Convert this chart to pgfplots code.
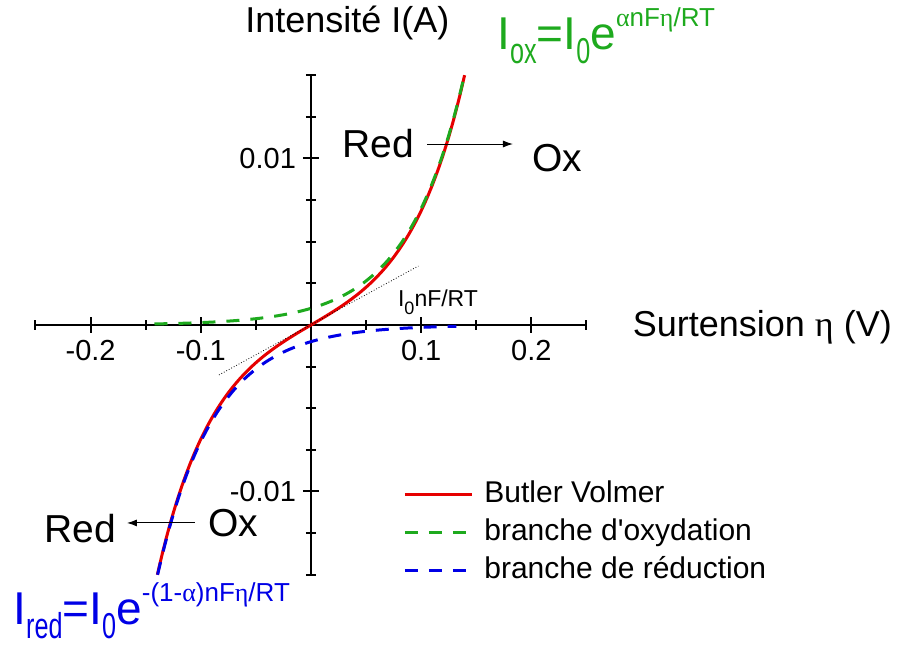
\documentclass[border=0pt]{standalone}
\usepackage{pgfplots}
\pgfplotsset{compat=1.18}
\usepackage{graphicx}
\usepackage{fontspec}
\setmainfont{Liberation Sans}
\newfontfamily\grk{Liberation Serif}
\usetikzlibrary{arrows.meta}
\definecolor{bvred}{RGB}{230,0,0}
\definecolor{bvgreen}{RGB}{30,170,30}
\definecolor{bvblue}{RGB}{0,0,230}
\begin{document}
\begin{tikzpicture}
\begin{axis}[
  scale only axis, width=275.5pt, height=249.75pt,
  xmin=-0.25, xmax=0.25, ymin=-0.015, ymax=0.015,
  axis lines=middle, axis line style={-, line width=1pt, black},
  clip=false,
  xtick={-0.2,-0.1,0.1,0.2},
  minor xtick={-0.25,-0.15,-0.05,0.05,0.15,0.25},
  ytick={-0.01,0.01},
  minor ytick={-0.015,-0.0125,-0.0075,-0.005,-0.0025,0.0025,0.005,0.0075,0.0125,0.015},
  tick align=center,
  major tick length=8pt, minor tick length=5pt,
  every tick/.style={line width=1pt, black},
  scaled y ticks=false, scaled x ticks=false,
  /pgf/number format/assume math mode=true,
  xticklabel={\pgfmathprintnumber[fixed,precision=1]{\tick}},
  yticklabel={\pgfmathprintnumber[fixed,precision=2]{\tick}},
  tick label style={font=\fontsize{14.5}{16}\selectfont},
  legend style={draw=none, fill=none, at={(axis cs:0.0835,-0.0093)}, anchor=north west,
    font=\fontsize{15}{18}\selectfont, row sep=5pt, column sep=5.5pt, inner sep=0pt,
    nodes={inner sep=0pt, text height=11pt, text depth=3pt}},
  legend cell align=left,
  legend image code/.code={\draw[#1] (0pt,0pt) -- (33.5pt,0pt);},
]
% Butler-Volmer
\addplot[bvred, line width=1.5pt, smooth] coordinates {
(-0.1394,-0.0150022) (-0.135,-0.0137595) (-0.13,-0.0124697) (-0.125,-0.0112983)
(-0.12,-0.0102336) (-0.115,-0.0092663) (-0.11,-0.0083864) (-0.105,-0.0075861)
(-0.1,-0.0068574) (-0.095,-0.0061942) (-0.09,-0.0055892) (-0.085,-0.0050372)
(-0.08,-0.0045329) (-0.075,-0.0040711) (-0.07,-0.0036484) (-0.065,-0.0032603)
(-0.06,-0.0029030) (-0.055,-0.0025733) (-0.05,-0.0022678) (-0.045,-0.0019840)
(-0.04,-0.0017189) (-0.035,-0.0014699) (-0.03,-0.0012350) (-0.025,-0.0010118)
(-0.02,-0.0007982) (-0.015,-0.0005920) (-0.01,-0.0003916) (-0.005,-0.0001949)
(0,0)
(0.005,0.0001949) (0.01,0.0003916) (0.015,0.0005920) (0.02,0.0007982)
(0.025,0.0010118) (0.03,0.0012350) (0.035,0.0014699) (0.04,0.0017189)
(0.045,0.0019840) (0.05,0.0022678) (0.055,0.0025733) (0.06,0.0029030)
(0.065,0.0032603) (0.07,0.0036484) (0.075,0.0040711) (0.08,0.0045329)
(0.085,0.0050372) (0.09,0.0055892) (0.095,0.0061942) (0.1,0.0068574)
(0.105,0.0075861) (0.11,0.0083864) (0.115,0.0092663) (0.12,0.0102336)
(0.125,0.0112983) (0.13,0.0124697) (0.135,0.0137595) (0.1394,0.0150022)
};
\addlegendentry{Butler Volmer}
% oxidation branch
\addplot[bvgreen, line width=1.5pt, smooth, dash pattern=on 6.5pt off 5.5pt] coordinates {
(-0.142,0.0000631) (-0.14,0.0000656) (-0.13,0.0000797) (-0.12,0.0000968)
(-0.11,0.0001176) (-0.1,0.0001429) (-0.09,0.0001735) (-0.08,0.0002108)
(-0.07,0.0002561) (-0.06,0.0003111) (-0.05,0.0003780) (-0.04,0.0004591)
(-0.03,0.0005578) (-0.02,0.0006776) (-0.01,0.0008232) (0,0.001)
(0.01,0.0012148) (0.02,0.0014758) (0.03,0.0017928) (0.04,0.0021780)
(0.05,0.0026458) (0.06,0.0032141) (0.07,0.0039045) (0.08,0.0047437)
(0.085,0.0052285) (0.09,0.0057627) (0.095,0.0063516) (0.1,0.0070003)
(0.105,0.0077157) (0.11,0.0085040) (0.115,0.0093730) (0.12,0.0103304)
(0.125,0.0113861) (0.13,0.0125494) (0.135,0.0138318) (0.1392,0.0150)
};
\addlegendentry{branche d\textquotesingle oxydation}
% reduction branch
\addplot[bvblue, line width=1.5pt, smooth, dash pattern=on 6.5pt off 5.5pt] coordinates {
(-0.1392,-0.0150) (-0.135,-0.0138318) (-0.13,-0.0125494) (-0.125,-0.0113861)
(-0.12,-0.0103304) (-0.115,-0.0093730) (-0.11,-0.0085040) (-0.105,-0.0077157)
(-0.1,-0.0070003) (-0.095,-0.0063516) (-0.09,-0.0057627) (-0.085,-0.0052285)
(-0.08,-0.0047437) (-0.07,-0.0039045) (-0.06,-0.0032141) (-0.05,-0.0026458)
(-0.04,-0.0021780) (-0.03,-0.0017928) (-0.02,-0.0014758) (-0.01,-0.0012148)
(0,-0.001) (0.01,-0.0008232) (0.02,-0.0006776) (0.03,-0.0005578)
(0.04,-0.0004591) (0.05,-0.0003780) (0.06,-0.0003111) (0.07,-0.0002561)
(0.08,-0.0002108) (0.09,-0.0001735) (0.1,-0.0001429) (0.11,-0.0001176)
(0.12,-0.0000968) (0.13,-0.0000797) (0.132,-0.0000766)
};
\addlegendentry{branche de réduction}
% tangent at origin
\addplot[black, line width=0.4pt, densely dotted, forget plot] coordinates {(-0.0835,-0.0030) (0.0974,0.00354)};

% texts
\node[anchor=base, inner sep=0pt, font=\fontsize{18}{20}\selectfont] at (axis cs:0.0331,0.01754) {Intensité I(A)};
\node[anchor=base west, inner sep=0pt, font=\fontsize{18}{20}\selectfont] at (axis cs:0.2917,-0.00072) {Surtension {\grk η} (V)};
\node[anchor=base west, inner sep=0pt, font=\fontsize{11.5}{12}\selectfont] at (axis cs:0.0787,0.0011) {I\raisebox{-4pt}{\fontsize{9}{9}\selectfont 0}nF/RT};
\node[anchor=base, inner sep=0pt, font=\fontsize{19.5}{20}\selectfont] at (axis cs:0.0613,0.01003) {Red};
\node[anchor=base, inner sep=0pt, font=\fontsize{19.5}{20}\selectfont] at (axis cs:0.2237,0.00919) {Ox};
\draw[-{Latex[length=5pt,width=3.5pt]}, line width=0.5pt] (axis cs:0.1053,0.01087) -- (axis cs:0.1833,0.01087);
\node[anchor=base, inner sep=0pt, font=\fontsize{19.5}{20}\selectfont] at (axis cs:-0.2092,-0.01309) {Red};
\node[anchor=base, inner sep=0pt, font=\fontsize{19.5}{20}\selectfont] at (axis cs:-0.0703,-0.01273) {Ox};
\draw[-{Latex[length=5pt,width=3.5pt]}, line width=0.5pt] (axis cs:-0.1053,-0.01189) -- (axis cs:-0.167,-0.01189);
\node[anchor=base west, inner sep=0pt, text=bvgreen] at (axis cs:0.1688,0.01652) {\fontsize{23}{23}\selectfont I\raisebox{-7pt}{\scalebox{0.7}[1]{\fontsize{18}{18}\selectfont ox}}=I\raisebox{-7pt}{\scalebox{0.7}[1]{\fontsize{18}{18}\selectfont 0}}e\raisebox{11.5pt}{\fontsize{13}{13}\selectfont {\grk α}nF{\grk η}/RT}};
\node[anchor=base west, inner sep=0pt, text=bvblue] at (axis cs:-0.2704,-0.0180) {\fontsize{23}{23}\selectfont I\raisebox{-7pt}{\scalebox{0.7}[1]{\fontsize{18}{18}\selectfont red}}=I\raisebox{-7pt}{\scalebox{0.7}[1]{\fontsize{18}{18}\selectfont 0}}e\raisebox{11.5pt}{\fontsize{13}{13}\selectfont -(1-{\grk α})nF{\grk η}/RT}};
\coordinate (bl) at (axis cs:-0.2822,-0.0194);
\coordinate (tr) at (axis cs:0.5327,0.01952);
\end{axis}
\pgfresetboundingbox
\path (bl) rectangle (tr);
\end{tikzpicture}
\end{document}
